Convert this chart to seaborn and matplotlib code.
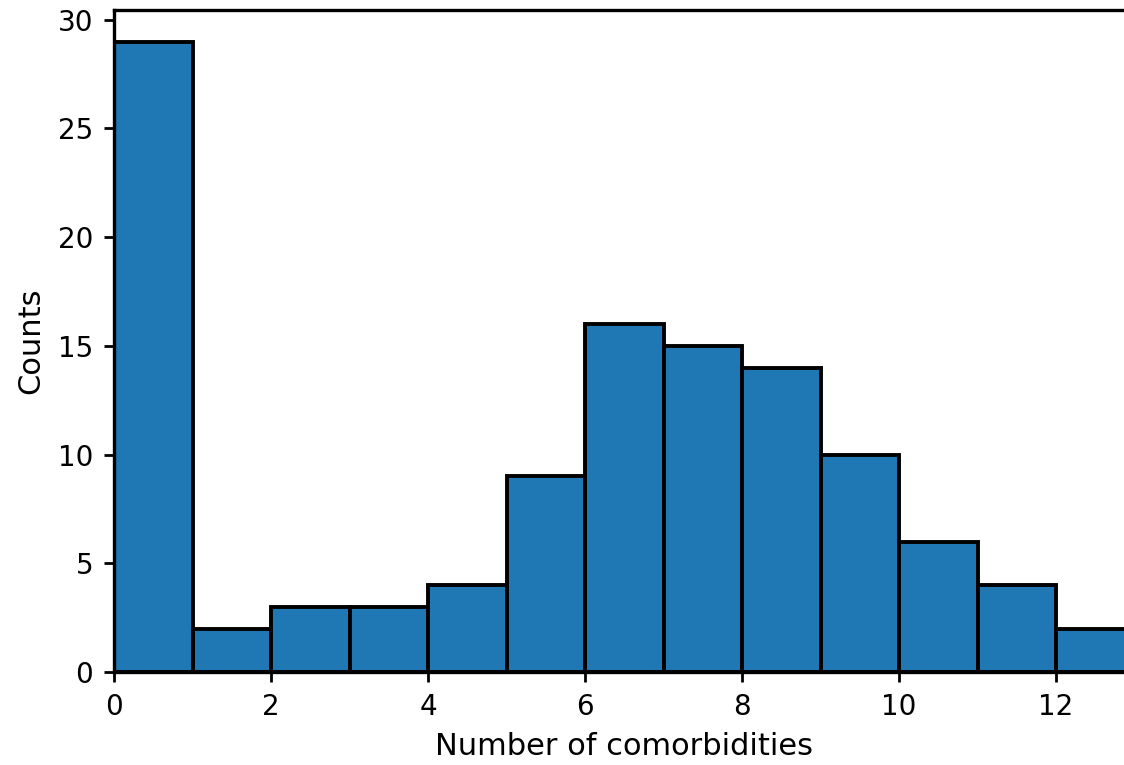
import matplotlib
matplotlib.use("Agg")
import matplotlib.pyplot as plt
import seaborn as sns
import numpy as np
import pandas as pd

# Data
bin_edges = [0, 1, 2, 3, 4, 5, 6, 7, 8, 9, 10, 11, 12, 13]
counts = [29, 2, 3, 3, 4, 9, 16, 15, 14, 10, 6, 4, 2]
xticks = [0, 2, 4, 6, 8, 10, 12]
yticks = [0, 5, 10, 15, 20, 25, 30]

df = pd.DataFrame({"comorbidities": bin_edges[:-1], "counts": counts})

W, H = 1124, 765
fig = plt.figure(figsize=(W / 100, H / 100), dpi=100)
left, right = 114 / W, 1134.5 / W
bottom, top = (H - 672) / H, (H - 10) / H
ax = fig.add_axes([left, bottom, right - left, top - bottom])

sns.histplot(data=df, x="comorbidities", weights="counts", bins=bin_edges,
             color="#1f77b4", alpha=1.0, edgecolor="black", linewidth=2.8, ax=ax)

ax.set_xlim(0, 13)
ax.set_ylim(0, 30.45)
ax.set_xticks(xticks)
ax.set_yticks(yticks)
ax.tick_params(labelsize=20, length=7.5, width=2.0, pad=7.5)
ax.set_xlabel("Number of comorbidities", fontsize=22, labelpad=8)
ax.set_ylabel("Counts", fontsize=22, labelpad=9)
for s in ax.spines.values():
    s.set_linewidth(2.4)

fig.savefig("out.png", dpi=100)
